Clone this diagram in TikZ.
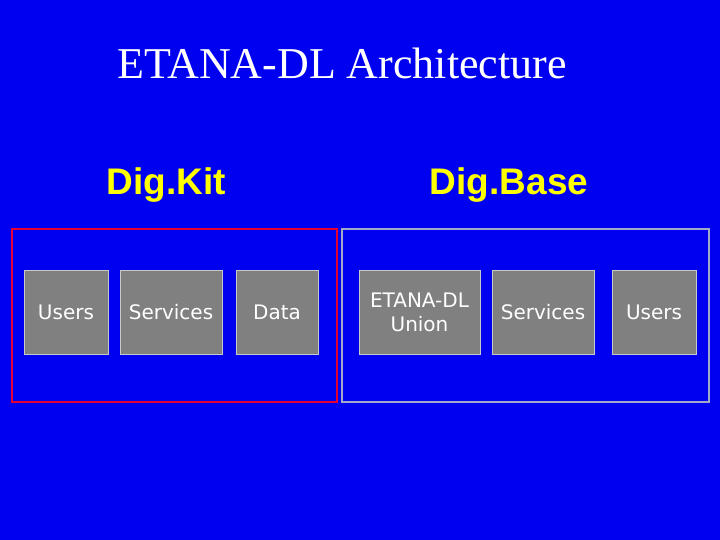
\documentclass[tikz,border=0pt]{standalone}
\usepackage{fontspec}
\setmainfont{Liberation Serif}
\newfontfamily\dejavu{DejaVu Sans}
\newfontfamily\arialb{Liberation Sans}
\definecolor{bg}{RGB}{0,0,240}
\definecolor{ylw}{RGB}{255,255,0}
\definecolor{boxgray}{RGB}{128,128,128}
\definecolor{boxline}{RGB}{200,200,200}
\definecolor{redline}{RGB}{230,0,50}
\definecolor{grayline}{RGB}{160,170,200}
\begin{document}
\begin{tikzpicture}[x=1pt,y=-1pt,
  comp/.style={draw=boxline,line width=1pt,fill=boxgray,text=white,font=\dejavu\fontsize{20}{24}\selectfont,align=center,inner sep=0pt,minimum height=84pt},
  head/.style={text=ylw,font=\arialb\bfseries\fontsize{37}{42}\selectfont}]
\fill[bg] (0,0) rectangle (720,540);
\useasboundingbox (0,0) rectangle (720,540);
\node[text=white,font=\fontsize{44}{50}\selectfont] (title) at (342,63) {ETANA-DL Architecture};
\node[head] (kit) at (166,185) {Dig.Kit};
\node[head] (base) at (509,185) {Dig.Base};
\draw[redline,line width=2pt] (12,229) rectangle (337,402);
\draw[grayline,line width=2pt] (342,229) rectangle (709,402);
\node[comp,minimum width=84pt] (u1) at (66,312) {Users};
\node[comp,minimum width=102pt] (s1) at (171,312) {Services};
\node[comp,minimum width=82pt] (d) at (277,312) {Data};
\node[comp,minimum width=121pt] (eu) at (419.5,312) {ETANA-DL\\Union};
\node[comp,minimum width=102pt] (s2) at (543,312) {Services};
\node[comp,minimum width=84pt] (u2) at (654,312) {Users};
\end{tikzpicture}
\end{document}
